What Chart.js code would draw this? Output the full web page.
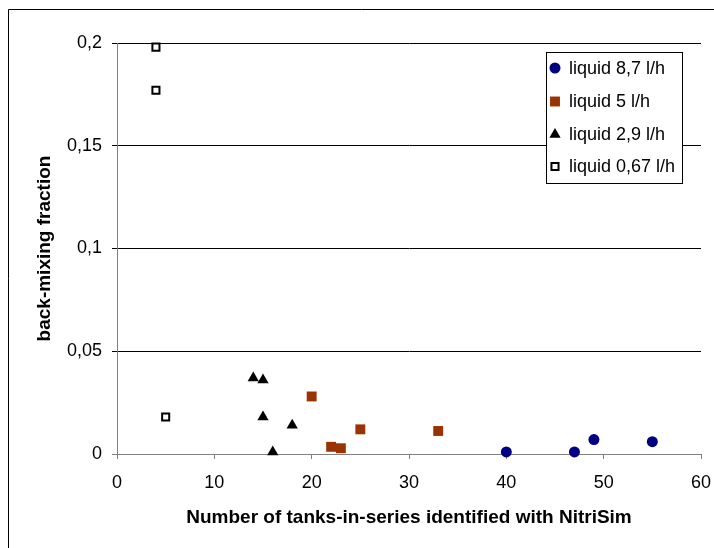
<!DOCTYPE html>
<html>
<head>
<meta charset="utf-8">
<script src="https://cdn.jsdelivr.net/npm/chart.js@4/dist/chart.umd.min.js"></script>
<style>
  html, body { margin: 0; padding: 0; background: #fff; }
  #wrap { width: 714px; height: 548px; }
</style>
</head>
<body>
<div id="wrap"><canvas id="chart" width="714" height="548"></canvas></div>
<script>
// Data
const seriesNames = ["liquid 8,7 l/h", "liquid 5 l/h", "liquid 2,9 l/h", "liquid 0,67 l/h"];

const tanks87 = [40, 47, 49, 55];
const backmix87 = [0.001, 0.001, 0.007, 0.006];

const tanks5 = [20, 22, 23, 25, 33];
const backmix5 = [0.028, 0.0035, 0.0028, 0.012, 0.0112];

const tanks29 = [14, 15, 15, 18, 16];
const backmix29 = [0.037, 0.036, 0.018, 0.014, 0.001];

const tanks067 = [4, 4, 5];
const backmix067 = [0.198, 0.177, 0.018];

const xTicks = [0, 10, 20, 30, 40, 50, 60];
const yTicks = [0, 0.05, 0.1, 0.15, 0.2];

const FONT = "'Liberation Sans', Arial, sans-serif";
const AXIS_GREY = "#808080";

function toPoints(xs, ys) {
    return xs.map((x, i) => ({ x: x, y: ys[i] }));
}

Chart.defaults.font.family = FONT;
Chart.defaults.color = "#000";

// outer frame of the chart area (left and top edges visible)
const framePlugin = {
    id: "frame",
    afterDraw(chart) {
        const ctx = chart.ctx;
        ctx.save();
        ctx.strokeStyle = "#000";
        ctx.lineWidth = 1;
        ctx.beginPath();
        ctx.moveTo(714, 9.5);
        ctx.lineTo(8.5, 9.5);
        ctx.lineTo(8.5, 548);
        ctx.stroke();
        ctx.restore();
    }
};

// boxed legend sitting inside the plot area
const boxLegendPlugin = {
    id: "boxLegend",
    afterDraw(chart) {
        const ctx = chart.ctx;
        const box = { x: 546.5, y: 52.5, w: 136, h: 131 };
        ctx.save();
        ctx.fillStyle = "#fff";
        ctx.fillRect(box.x, box.y, box.w, box.h);
        ctx.strokeStyle = "#000";
        ctx.lineWidth = 1;
        ctx.strokeRect(box.x, box.y, box.w, box.h);

        const rowY = [68, 101.5, 134.5, 166.5];
        ctx.font = "18px " + FONT;
        ctx.textBaseline = "middle";
        ctx.textAlign = "left";
        chart.data.datasets.forEach((ds, i) => {
            ctx.fillStyle = ds.backgroundColor;
            ctx.strokeStyle = ds.borderColor;
            ctx.lineWidth = ds.borderWidth;
            Chart.helpers.drawPoint(ctx, {
                pointStyle: ds.pointStyle,
                radius: ds.pointRadius,
                rotation: 0,
                borderWidth: ds.borderWidth
            }, 555, rowY[i]);
            ctx.fillStyle = "#000";
            ctx.fillText(ds.label, 569, rowY[i] + 1);
        });
        ctx.restore();
    }
};

new Chart(document.getElementById("chart"), {
    type: "scatter",
    data: {
        datasets: [
            {
                label: seriesNames[0],
                data: toPoints(tanks87, backmix87),
                pointStyle: "circle",
                pointRadius: 5.5,
                backgroundColor: "#000080",
                borderColor: "#000080",
                borderWidth: 0,
                clip: false
            },
            {
                label: seriesNames[1],
                data: toPoints(tanks5, backmix5),
                pointStyle: "rect",
                pointRadius: 7,
                backgroundColor: "#993300",
                borderColor: "#993300",
                borderWidth: 0,
                clip: false
            },
            {
                label: seriesNames[2],
                data: toPoints(tanks29, backmix29),
                pointStyle: "triangle",
                pointRadius: 6.5,
                backgroundColor: "#000",
                borderColor: "#000",
                borderWidth: 0,
                clip: false
            },
            {
                label: seriesNames[3],
                data: toPoints(tanks067, backmix067),
                pointStyle: "rect",
                pointRadius: 5,
                backgroundColor: "#fff",
                borderColor: "#000",
                borderWidth: 2,
                clip: false
            }
        ]
    },
    options: {
        responsive: false,
        animation: false,
        devicePixelRatio: 1,
        layout: { padding: { left: 0, top: 43, right: 13, bottom: 0 } },
        plugins: {
            legend: { display: false },
            tooltip: { enabled: false }
        },
        elements: { point: { hoverRadius: 5 } },
        scales: {
            x: {
                type: "linear",
                min: xTicks[0],
                max: xTicks[xTicks.length - 1],
                afterBuildTicks: (scale) => { scale.ticks = xTicks.map(v => ({ value: v })); },
                afterFit: (scale) => {
                    scale.height = 94;
                    // keep the plot edge fixed; the last label may overflow into the right margin
                    scale.paddingLeft = 0;
                    scale.paddingRight = 0;
                },
                ticks: {
                    font: { size: 18 },
                    color: "#000",
                    padding: 13
                },
                grid: {
                    drawOnChartArea: false,
                    color: AXIS_GREY,
                    tickLength: 5
                },
                border: { color: AXIS_GREY },
                title: {
                    display: true,
                    text: "Number of tanks-in-series identified with NitriSim",
                    font: { size: 19, weight: "bold" },
                    color: "#000",
                    padding: { top: 0, bottom: 19 }
                }
            },
            y: {
                type: "linear",
                min: yTicks[0],
                max: yTicks[yTicks.length - 1],
                afterBuildTicks: (scale) => { scale.ticks = yTicks.map(v => ({ value: v })); },
                afterFit: (scale) => { scale.width = 117; },
                ticks: {
                    font: { size: 18 },
                    color: "#000",
                    padding: 10,
                    callback: (v) => String(+Number(v).toFixed(2)).replace(".", ",")
                },
                grid: {
                    color: (c) => (c.tick && Math.abs(c.tick.value) < 1e-9) ? AXIS_GREY : "#000",
                    tickLength: 5
                },
                border: { color: AXIS_GREY },
                title: {
                    display: true,
                    text: "back-mixing fraction",
                    font: { size: 19, weight: "bold" },
                    color: "#000",
                    padding: { top: 33, bottom: 0 }
                }
            }
        }
    },
    plugins: [framePlugin, boxLegendPlugin]
});
</script>
</body>
</html>
